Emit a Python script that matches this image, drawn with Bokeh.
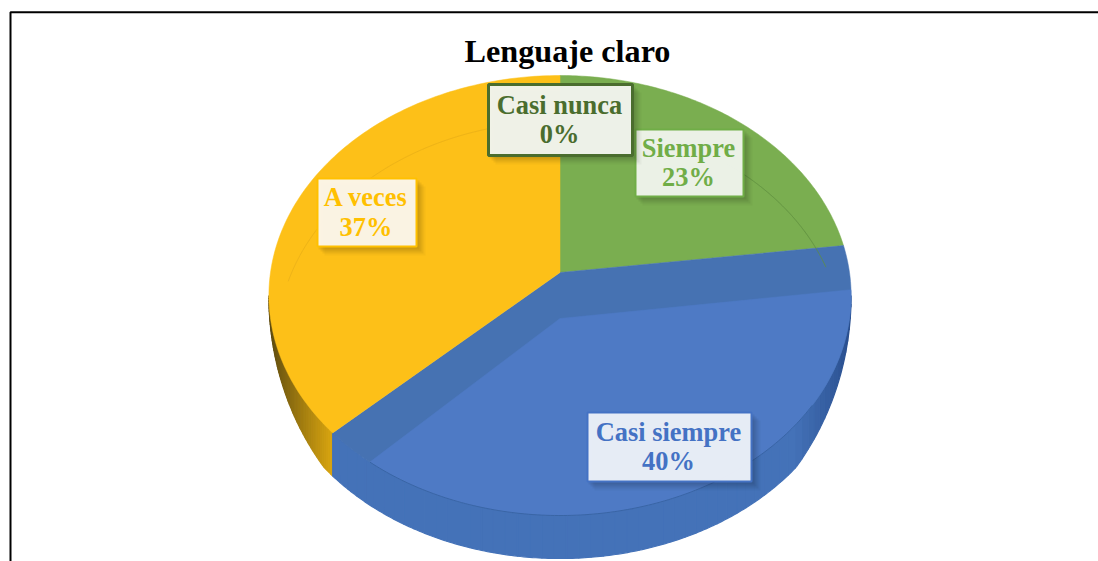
import math
from bokeh.plotting import figure
from bokeh.models import Range1d
from bokeh.core.properties import value
from bokeh.embed import file_html
from bokeh.resources import INLINE

# ---- data ----
title_text = "Lenguaje claro"
categories = ["Siempre", "Casi siempre", "A veces", "Casi nunca"]
shares = [23, 40, 37, 0]
slice_colors = ["#7AAE50", "#4E7AC5", "#FDC018", "#4B7030"]
wall_colors = {"Casi siempre": ("#2A4F8F", "#4472B8"), "A veces": ("#5F4C10", "#DDA810")}
text_colors = ["#70AD47", "#4472C4", "#FFC000", "#4A6D2E"]
fill_colors = ["#EEF3EA", "#EAEFF7", "#FBF5E8", "#F0F3EC"]
edge_colors = ["#70AD47", "#4472C4", "#FFC000", "#4A6D2E"]
edge_widths = [2, 2, 2, 3]
boxes = [(635, 129, 743, 196), (587, 412, 751, 481), (317, 178, 416, 246), (488, 84, 632, 155)]

# ---- geometry of the tilted disc (page pixels) ----
CX, CY = 559.5, 272.0
R, A, K = 289.5, 217.6, 0.1046
DEPTH = 43.0
W, H = 1098, 561


def rim(t, cx=CX, cy=CY, r=R):
    u, v = math.sin(t), math.cos(t)
    s = 1 / (1 + K * v)
    return cx + r * u * s, cy - A * v * s


def arc(t0, t1, n=120, **kw):
    pts = [rim(t0 + (t1 - t0) * i / n, **kw) for i in range(n + 1)]
    return [q[0] for q in pts], [q[1] for q in pts]


def depth(t):
    return DEPTH * min(1.0, max(0.0, (-math.cos(t) - 0.1) / 0.55))


def mix(c0, c1, f):
    a = [int(c0[i:i + 2], 16) for i in (1, 3, 5)]
    b = [int(c1[i:i + 2], 16) for i in (1, 3, 5)]
    return "#%02X%02X%02X" % tuple(round(x + (y - x) * f) for x, y in zip(a, b))


p = figure(width=W, height=H, output_backend="svg", toolbar_location=None,
           x_range=Range1d(0, W), y_range=Range1d(H, 0), min_border=0,
           outline_line_color=None, background_fill_color="white", border_fill_color="white")
p.axis.visible = False
p.grid.visible = False

total = sum(shares)
bounds = [0.0]
for s in shares:
    bounds.append(bounds[-1] + s / total * 2 * math.pi)
tb = {c: (bounds[i], bounds[i + 1]) for i, c in enumerate(categories)}

# side walls, as shaded segments (back to front, overlapping so no seams show)
for name in ("A veces", "Casi siempre"):
    t0, t1 = tb[name]
    t0 = max(t0, math.radians(96))
    t1 = min(t1, math.radians(264))
    steps = 60
    order = range(steps) if name == "Casi siempre" else range(steps - 1, -1, -1)
    for i in order:
        a0 = t0 + (t1 - t0) * i / steps
        a1 = t0 + (t1 - t0) * (i + 1) / steps
        ts = [a0 + (a1 - a0) * k / 4 for k in range(5)]
        pts = [rim(t) for t in ts]
        xs = [q[0] for q in pts]
        ys = [q[1] for q in pts]
        yd = [q[1] + depth(t) for q, t in zip(pts, ts)]
        mid = (a0 + a1) / 2
        if name == "A veces":
            f = max(0.0, min(1.0, (math.sin(mid) + 0.97) / 0.25))
        else:
            f = max(0.0, min(1.0, (0.97 - math.sin(mid)) / 0.22))
        col = mix(wall_colors[name][0], wall_colors[name][1], f)
        p.patch(xs + xs[::-1], ys + yd[::-1], fill_color=col, line_color=col, line_width=1.2)

# top faces
for i, name in enumerate(categories):
    t0, t1 = tb[name]
    if t1 - t0 <= 0:
        continue
    xs, ys = arc(t0, t1)
    col = slice_colors[i]
    if name == "Casi siempre":
        col = "#4672B2"
    p.patch([CX] + xs, [CY] + ys, fill_color=col, line_color=col, line_width=0.5)

# lighter plane of the front slice
t0, t1 = math.radians(94.5), math.radians(217)
xs, ys = arc(t0, t1)
p.patch([CX] + xs, [CY + 46] + ys, fill_color=slice_colors[1], line_color=slice_colors[1], line_width=0.5)

# faint inner ring
xs, ys = arc(math.radians(-80), 0, cx=CX, cy=CY + 46, r=281)
p.line(xs, ys, line_color="#E0A818", line_width=1, line_alpha=0.5)
xs, ys = arc(math.radians(40), math.radians(76), cx=CX, cy=CY + 46, r=281)
p.line(xs, ys, line_color="#5F8F40", line_width=1, line_alpha=0.8)
xs, ys = arc(math.radians(125), math.radians(217))
p.line(xs, ys, line_color="#34609F", line_width=1, line_alpha=0.8)

# labels: shadow, box, text
for i, name in enumerate(categories):
    x0, y0, x1, y1 = boxes[i]
    for off, alpha in ((9, 0.03), (7, 0.05), (5, 0.06), (3, 0.06)):
        p.quad(left=x0 + off - 2, right=x1 + off, top=y0 + off - 1, bottom=y1 + off,
               fill_color="black", fill_alpha=alpha, line_color=None)
    p.quad(left=x0, right=x1, top=y0, bottom=y1, fill_color=fill_colors[i], fill_alpha=0.98,
           line_color=edge_colors[i], line_width=edge_widths[i])
    xm = (x0 + x1) / 2
    ym = (y0 + y1) / 2
    for dy, txt in ((-15, name), (14.5, f"{shares[i]}%")):
        p.text([xm - 1], [ym + dy - 0.5], text=[txt], text_font=value("Liberation Serif"), text_font_style="bold",
               text_font_size="26.4px", text_color=text_colors[i], text_align="center", text_baseline="middle")

# title
p.text([567], [50.5], text=[title_text], text_font=value("Liberation Serif"), text_font_style="bold",
       text_font_size="32.2px", text_color="black", text_align="center", text_baseline="middle")

# frame (left and top rules of the page)
p.line([10, 10, W], [H, 11.7, 11.7], line_color="black", line_width=2)

open("out.html", "w").write(file_html(p, INLINE))
